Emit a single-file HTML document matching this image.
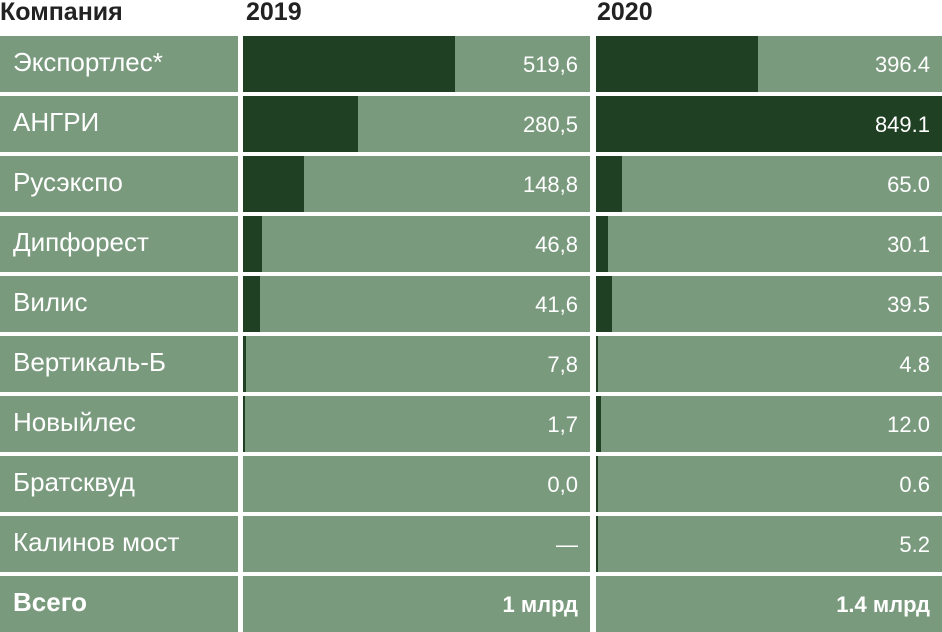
<!DOCTYPE html>
<html><head><meta charset="utf-8"><style>
html,body{margin:0;padding:0;background:#fff;}
body{width:942px;height:632px;position:relative;overflow:hidden;font-family:"Liberation Sans",sans-serif;}
.h{position:absolute;top:-1px;font-weight:bold;font-size:25px;color:#222;line-height:26px;}
.cell{position:absolute;background:#7a9a7e;height:56px;overflow:hidden;}
.lab{color:#fff;font-size:26px;line-height:53px;padding-left:13px;box-sizing:border-box;}
.bar{position:absolute;left:0;top:0;height:56px;background:#1f4023;}
.val{position:absolute;right:12px;top:0;line-height:58px;color:#fff;font-size:22px;}
.b{font-weight:bold;}
</style></head><body>
<div class="h" style="left:0">Компания</div>
<div class="h" style="left:246px">2019</div>
<div class="h" style="left:597px">2020</div>
<div id="rows"></div>
<script>
const companies=["Экспортлес*","АНГРИ","Русэкспо","Дипфорест","Вилис","Вертикаль-Б","Новыйлес","Братсквуд","Калинов мост"];
const values2019=[519.6,280.5,148.8,46.8,41.6,7.8,1.7,0.0,null];
const values2020=[396.4,849.1,65.0,30.1,39.5,4.8,12.0,0.6,5.2];
const labels2019=["519,6","280,5","148,8","46,8","41,6","7,8","1,7","0,0","—"];
const labels2020=["396.4","849.1","65.0","30.1","39.5","4.8","12.0","0.6","5.2"];
const totalLabel="Всего", total2019="1 млрд", total2020="1.4 млрд";
const maxVal=849.1;
const root=document.getElementById('rows');
const cols=[{x:243,w:347},{x:596,w:346}];
function sx(v,w){return v==null?0:Math.max(v>0?2:0,v/maxVal*w);}
function mk(cls,style){const d=document.createElement('div');d.className=cls;Object.assign(d.style,style);return d;}
function row(i,label,vals,labs,bold){
  const top=36+60*i;
  const l=mk('cell lab'+(bold?' b':''),{left:'0px',top:top+'px',width:'238px'});
  l.textContent=label;
  
  
  root.appendChild(l);
  cols.forEach((c,j)=>{
    const cell=mk('cell',{left:c.x+'px',top:top+'px',width:c.w+'px'});
    
    
    if(vals){const b=mk('bar',{width:sx(vals[j],c.w)+'px'});
      
      
      cell.appendChild(b);}
    const t=mk('val'+(bold?' b':''),{});t.textContent=labs[j];
    
    
    cell.appendChild(t);root.appendChild(cell);
  });
}
companies.forEach((c,i)=>row(i,c,[values2019[i],values2020[i]],[labels2019[i],labels2020[i]],false));
row(9,totalLabel,null,[total2019,total2020],true);
</script>
</body></html>
